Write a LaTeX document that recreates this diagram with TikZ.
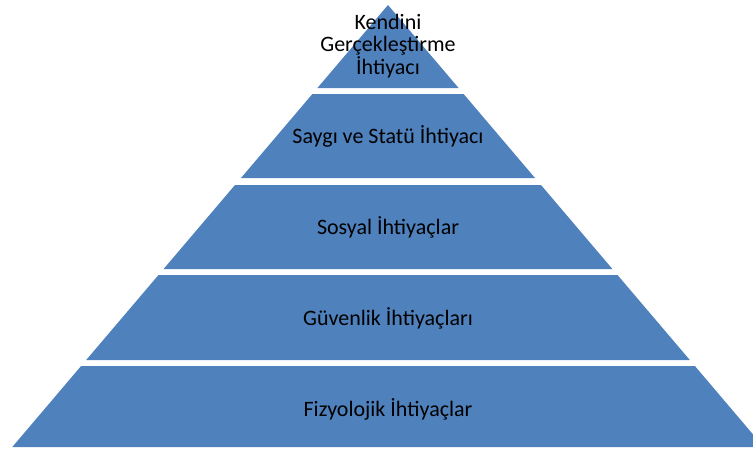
\documentclass[tikz,border=0pt]{standalone}
\usepackage{fontspec}
\setmainfont{Carlito}
\definecolor{tierblue}{HTML}{4F81BD}
\tikzset{
  tier/.style={fill=tierblue},
  tierlabel/.style={align=center,inner sep=0pt,font=\fontsize{22}{22.5}\selectfont}
}
\begin{document}
\begin{tikzpicture}[x=1pt,y=-1pt]
  \useasboundingbox (0,0) rectangle (753,453);
  \clip (0,0) rectangle (753,453);
  \fill[tier] (388,5) -- (458.6,88) -- (317.4,88) -- cycle; %
  \fill[tier] (312.4,94) -- (463.6,94) -- (535,178) -- (241,178) -- cycle; %
  \fill[tier] (235,185) -- (541,185) -- (612.4,269) -- (163.6,269) -- cycle; %
  \fill[tier] (158.5,275) -- (617.5,275) -- (689.8,360) -- (86.2,360) -- cycle; %
  \fill[tier] (81.1,366) -- (694.9,366) -- (763.7,447) -- (12.3,447) -- cycle; %
  \node[tierlabel,anchor=base] (kendini) at (388,74) {Kendini\\Gerçekleştirme\\İhtiyacı};
  \node[tierlabel,anchor=base] (saygi) at (388,143) {Saygı ve Statü İhtiyacı};
  \node[tierlabel,anchor=base] (sosyal) at (388,234) {Sosyal İhtiyaçlar};
  \node[tierlabel,anchor=base] (guvenlik) at (388,325) {Güvenlik İhtiyaçları};
  \node[tierlabel,anchor=base] (fizyolojik) at (388,416) {Fizyolojik İhtiyaçlar};
  %\draw (0,0) rectangle (753,453);%
\end{tikzpicture}
\end{document}
